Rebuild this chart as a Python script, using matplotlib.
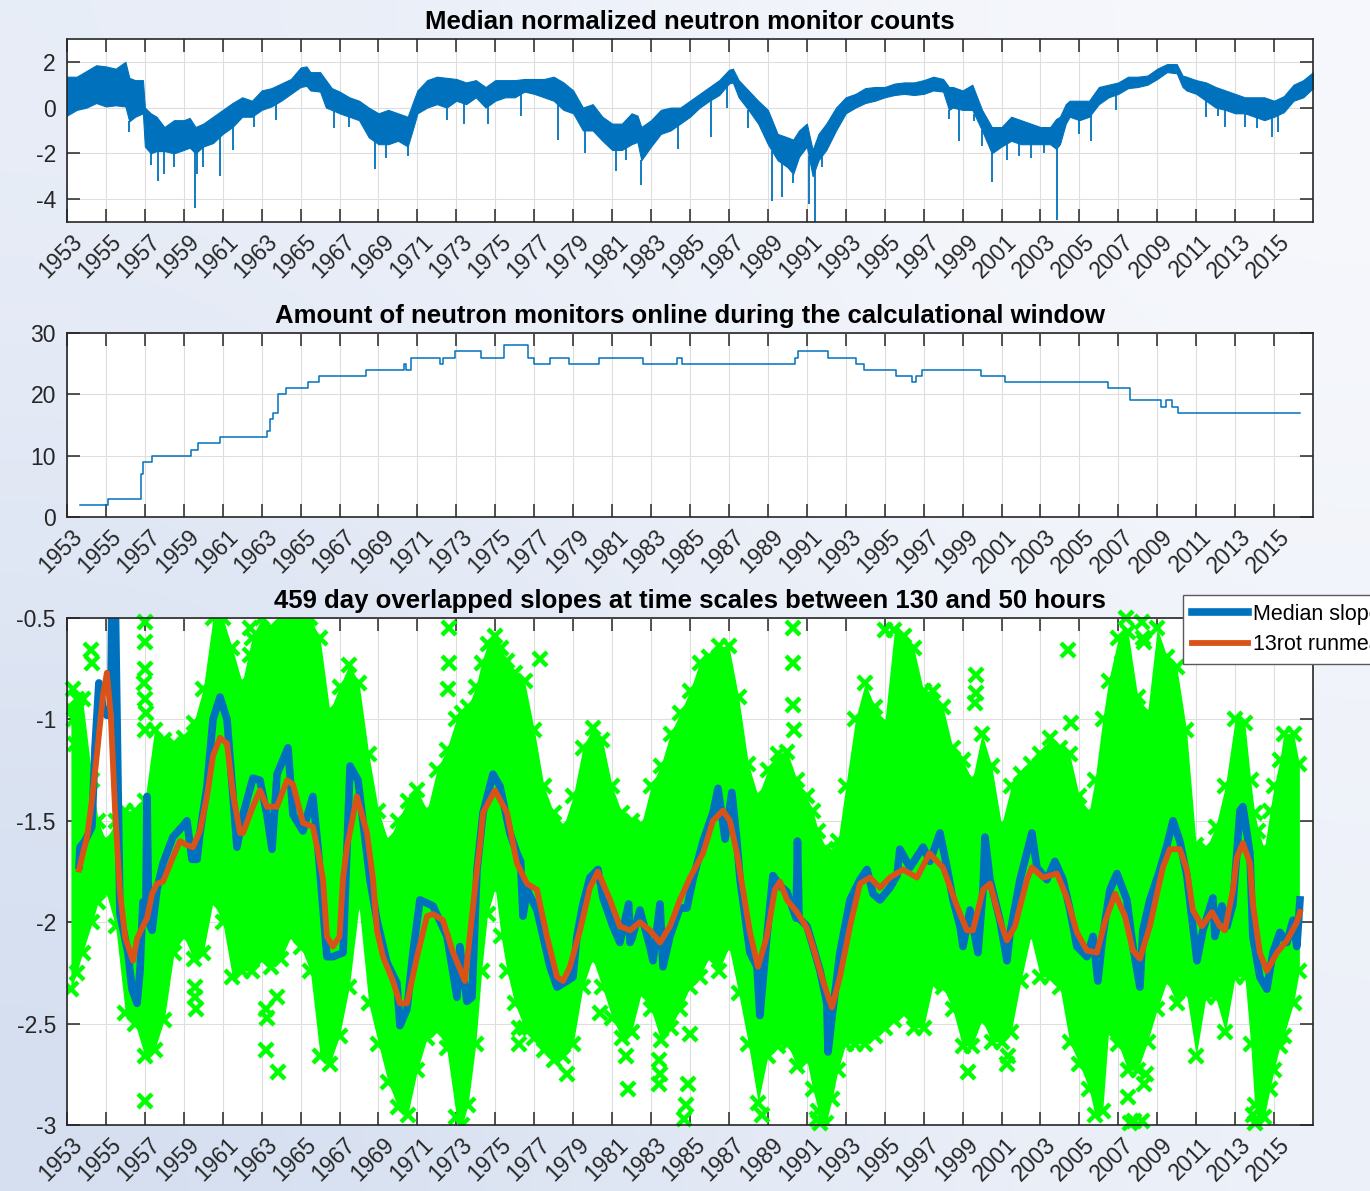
import numpy as np
import matplotlib.pyplot as plt
from matplotlib.transforms import ScaledTranslation

plt.rcParams['font.family'] = ['Liberation Sans', 'DejaVu Sans']
plt.rcParams['axes.unicode_minus'] = False

BLUE = '#0072BD'
ORANGE = '#D95319'
GREEN = '#00FF00'

# --- panel 1: median normalized counts (band envelope + deep decreases) ---
cnt_year = [1953.0, 1953.5, 1954.0, 1954.5, 1955.0, 1955.5, 1956.0, 1956.2, 1956.5, 1956.9,
            1957.0, 1957.3, 1957.6, 1958.0, 1958.5, 1959.0, 1959.3, 1959.6, 1960.0, 1960.5,
            1961.0, 1961.5, 1962.0, 1962.5, 1963.0, 1963.5, 1964.0, 1964.5, 1965.0, 1965.3,
            1965.5, 1966.0, 1966.3, 1966.6, 1967.0, 1967.5, 1968.0, 1968.5, 1969.0, 1969.5,
            1970.0, 1970.5, 1970.8, 1971.0, 1971.5, 1972.0, 1972.5, 1973.0, 1973.5, 1974.0,
            1974.5, 1975.0, 1975.5, 1976.0, 1976.5, 1977.0, 1977.5, 1978.0, 1978.5, 1979.0,
            1979.5, 1980.0, 1980.5, 1981.0, 1981.5, 1982.0, 1982.3, 1982.5, 1983.0, 1983.5,
            1984.0, 1984.5, 1985.0, 1985.5, 1986.0, 1986.5, 1987.0, 1987.2, 1987.5, 1988.0,
            1988.5, 1989.0, 1989.5, 1990.0, 1990.3, 1990.6, 1991.0, 1991.3, 1991.6, 1992.0,
            1992.5, 1993.0, 1993.5, 1994.0, 1994.5, 1995.0, 1995.5, 1996.0, 1996.5, 1997.0,
            1997.5, 1998.0, 1998.3, 1998.5, 1999.0, 1999.5, 2000.0, 2000.5, 2001.0, 2001.5,
            2002.0, 2002.5, 2003.0, 2003.5, 2003.8, 2004.0, 2004.3, 2004.5, 2005.0, 2005.5,
            2006.0, 2006.5, 2007.0, 2007.5, 2008.0, 2008.5, 2009.0, 2009.5, 2010.0, 2010.3,
            2010.5, 2011.0, 2011.5, 2012.0, 2012.5, 2013.0, 2013.5, 2014.0, 2014.5, 2015.0,
            2015.5, 2016.0, 2016.5, 2017.0]
cnt_hi = [1.35, 1.35, 1.6, 1.85, 1.8, 1.7, 2.0, 1.3, 1.2, 1.2,
          0.0, -0.25, -0.4, -0.85, -0.55, -0.55, -0.45, -0.85, -0.7, -0.4,
          -0.1, 0.2, 0.45, 0.3, 0.75, 0.85, 1.05, 1.25, 1.75, 1.8,
          1.55, 1.55, 1.2, 0.85, 0.7, 0.45, 0.3, 0.0, -0.25, -0.1,
          -0.25, -0.4, 0.3, 0.75, 1.2, 1.35, 1.3, 1.25, 1.1, 1.2,
          0.9, 1.2, 1.2, 1.2, 1.25, 1.25, 1.25, 1.35, 1.1, 0.75,
          0.0, 0.15, -0.4, -0.7, -0.7, -0.25, -0.35, -0.85, -0.55, -0.1,
          0.0, 0.0, 0.3, 0.6, 0.9, 1.2, 1.65, 1.7, 1.2, 0.75,
          0.3, -0.1, -1.15, -1.3, -1.4, -1.0, -0.7, -1.85, -1.15, -0.7,
          0.0, 0.45, 0.6, 0.85, 0.9, 0.9, 1.05, 1.1, 1.1, 1.2,
          1.35, 1.25, 0.9, 0.9, 0.75, 1.0, -0.1, -0.85, -0.85, -0.4,
          -0.55, -0.7, -0.85, -0.85, -0.5, -0.4, 0.15, 0.3, 0.3, 0.3,
          0.9, 1.0, 1.1, 1.35, 1.35, 1.4, 1.7, 1.9, 1.9, 1.4,
          1.35, 1.2, 1.1, 0.9, 0.75, 0.6, 0.45, 0.45, 0.45, 0.3,
          0.5, 1.0, 1.2, 1.55]
cnt_lo = [-0.35, -0.1, 0.0, 0.2, 0.05, 0.1, 0.05, -0.6, -0.4, -0.25,
          -1.7, -2.0, -1.9, -1.9, -2.0, -1.85, -1.75, -2.0, -1.7, -1.55,
          -1.15, -0.85, -0.4, -0.4, -0.1, 0.05, 0.3, 0.6, 0.9, 0.95,
          0.75, 0.7, 0.0, -0.1, -0.25, -0.4, -0.55, -1.3, -1.6, -1.6,
          -1.45, -1.7, -0.85, -0.25, 0.0, 0.15, 0.0, 0.3, 0.15, 0.45,
          0.0, 0.3, 0.45, 0.45, 0.7, 0.6, 0.45, 0.3, -0.1, -0.25,
          -1.0, -1.0, -1.45, -1.85, -1.85, -1.6, -1.5, -2.3, -1.7, -1.15,
          -1.0, -0.7, -0.4, 0.0, 0.3, 0.55, 1.05, 1.1, 0.45, -0.1,
          -0.7, -1.6, -2.3, -2.6, -2.9, -2.15, -1.7, -3.0, -2.3, -1.85,
          -1.0, -0.25, 0.0, 0.2, 0.3, 0.45, 0.55, 0.6, 0.55, 0.6,
          0.75, 0.7, -0.1, 0.0, -0.1, -0.1, -1.0, -2.0, -1.7, -1.45,
          -1.6, -1.6, -1.6, -1.6, -1.8, -1.6, -0.7, -0.4, -0.55, -0.4,
          0.15, 0.45, 0.6, 0.85, 0.9, 1.0, 1.25, 1.55, 1.5, 0.9,
          0.75, 0.6, 0.3, 0.0, -0.1, -0.25, -0.25, -0.4, -0.55, -0.4,
          -0.2, 0.3, 0.45, 0.85]
dip_year = [1956.2, 1957.3, 1957.65, 1958.0, 1958.5, 1959.55, 1959.7, 1960.0, 1960.85, 1961.55,
            1962.6, 1963.75, 1966.7, 1967.5, 1968.8, 1969.4, 1970.5, 1972.5, 1973.4, 1974.6,
            1976.3, 1978.2, 1979.6, 1981.2, 1981.7, 1982.5, 1984.4, 1986.1, 1986.9, 1988.0,
            1989.2, 1989.7, 1990.3, 1991.1, 1991.4, 1991.8, 1998.3, 1998.8, 1999.6, 2000.0,
            2000.5, 2001.3, 2001.9, 2002.5, 2003.2, 2003.85, 2005.0, 2005.6, 2006.9, 2011.5,
            2012.1, 2012.5, 2013.5, 2014.1, 2014.9, 2015.2]
dip_val = [-1.05, -2.5, -3.2, -2.9, -2.6, -4.4, -2.9, -2.6, -3.0, -1.85,
           -0.85, -0.55, -0.9, -0.85, -2.7, -2.2, -2.1, -0.55, -0.7, -0.7,
           -0.35, -1.4, -2.0, -2.75, -2.3, -3.4, -1.8, -1.3, 0.0, -0.9,
           -4.1, -3.9, -3.3, -4.2, -5.0, -2.6, -0.5, -1.45, -0.6, -1.7,
           -3.25, -2.3, -2.1, -2.2, -2.0, -4.9, -1.15, -1.45, -0.1, -0.4,
           -0.35, -0.85, -0.85, -0.9, -1.3, -1.05]

# --- panel 2: number of monitors online (step changes) ---
mon_year = [1953.69, 1955.13, 1956.78, 1956.90, 1957.36, 1959.35, 1959.72, 1960.84, 1963.28, 1963.44,
            1963.60, 1963.83, 1964.24, 1965.39, 1965.96, 1968.37, 1970.32, 1970.43, 1970.66, 1972.15,
            1972.33, 1972.95, 1974.26, 1975.43, 1976.67, 1977.01, 1977.82, 1978.80, 1980.34, 1982.59,
            1984.35, 1984.58, 1990.38, 1990.55, 1992.08, 1993.51, 1993.94, 1995.59, 1996.38, 1996.61,
            1996.90, 1999.95, 2001.20, 2006.49, 2007.58, 2009.21, 2009.43, 2009.77, 2010.07, 2016.33]
mon_count = [2, 3, 7, 9, 10, 11, 12, 13, 14, 16,
             17, 20, 21, 22, 23, 24, 25, 24, 26, 25,
             26, 27, 26, 28, 26, 25, 26, 25, 26, 25,
             26, 25, 26, 27, 26, 25, 24, 23, 22, 23,
             24, 23, 22, 21, 19, 18, 19, 18, 17, 17]

# --- panel 3: slopes ---
run_year = [1953.62, 1953.82, 1954.03, 1954.28, 1954.54, 1954.85, 1955.05, 1955.25, 1955.47, 1955.72,
            1956.0, 1956.39, 1956.6, 1956.9, 1957.11, 1957.37, 1957.62, 1957.93, 1958.44, 1958.8,
            1959.16, 1959.47, 1959.83, 1960.19, 1960.5, 1960.86, 1961.22, 1961.53, 1961.89, 1962.04,
            1962.55, 1962.91, 1963.27, 1963.79, 1964.3, 1964.61, 1965.12, 1965.63, 1965.89, 1966.15,
            1966.35, 1966.66, 1967.0, 1967.18, 1967.38, 1967.89, 1968.41, 1968.72, 1968.92, 1969.23,
            1969.74, 1970.1, 1970.46, 1970.98, 1971.49, 1971.8, 1972.31, 1972.83, 1973.44, 1974.06,
            1974.21, 1974.37, 1974.98, 1975.6, 1976.11, 1976.63, 1977.14, 1977.65, 1978.17, 1978.48,
            1978.83, 1979.35, 1979.86, 1980.27, 1980.89, 1981.4, 1981.92, 1982.43, 1982.94, 1983.46,
            1983.97, 1984.48, 1985.0, 1985.67, 1986.18, 1986.69, 1987.05, 1987.41, 1987.72, 1988.08,
            1988.49, 1988.95, 1989.36, 1989.62, 1989.98, 1990.49, 1991.01, 1991.32, 1991.83, 1992.29,
            1992.7, 1993.22, 1993.73, 1994.24, 1994.76, 1995.27, 1995.94, 1996.66, 1997.3, 1997.99,
            1998.71, 1999.22, 1999.53, 2000.05, 2000.41, 2000.92, 2001.28, 2001.69, 2002.31, 2002.56,
            2003.13, 2003.85, 2004.36, 2004.87, 2005.39, 2005.9, 2006.31, 2006.83, 2007.34, 2007.75,
            2008.11, 2008.62, 2009.03, 2009.29, 2009.65, 2010.16, 2010.52, 2010.83, 2011.29, 2011.81,
            2012.22, 2012.47, 2012.89, 2013.09, 2013.4, 2013.76, 2013.91, 2014.27, 2014.63, 2015.15,
            2015.66, 2016.17, 2016.33]
run_val = [-1.74, -1.66, -1.58, -1.40, -1.17, -0.88, -0.77, -0.98, -1.45, -1.85,
           -2.08, -2.19, -2.08, -2.02, -1.98, -1.86, -1.81, -1.80, -1.68, -1.60,
           -1.62, -1.63, -1.55, -1.38, -1.18, -1.09, -1.12, -1.37, -1.56, -1.56,
           -1.43, -1.35, -1.43, -1.43, -1.30, -1.32, -1.51, -1.53, -1.65, -1.79,
           -2.07, -2.12, -2.07, -1.78, -1.63, -1.38, -1.56, -1.79, -2.04, -2.17,
           -2.29, -2.40, -2.40, -2.17, -1.97, -1.96, -1.99, -2.15, -2.29, -1.74,
           -1.62, -1.46, -1.35, -1.46, -1.71, -1.81, -1.84, -2.07, -2.27, -2.29,
           -2.22, -2.04, -1.83, -1.75, -1.89, -2.02, -2.04, -2.00, -2.04, -2.10,
           -2.02, -1.89, -1.78, -1.66, -1.50, -1.45, -1.50, -1.66, -1.84, -2.05,
           -2.22, -2.07, -1.84, -1.80, -1.89, -1.95, -2.03, -2.12, -2.29, -2.42,
           -2.27, -2.02, -1.81, -1.78, -1.83, -1.78, -1.74, -1.78, -1.66, -1.73,
           -1.92, -2.04, -2.04, -1.84, -1.81, -1.99, -2.09, -2.02, -1.79, -1.73,
           -1.78, -1.76, -1.88, -2.05, -2.14, -2.15, -2.00, -1.86, -1.97, -2.14,
           -2.18, -2.02, -1.84, -1.73, -1.64, -1.64, -1.74, -1.94, -2.02, -1.95,
           -2.02, -2.04, -1.84, -1.68, -1.61, -1.71, -1.91, -2.15, -2.24, -2.15,
           -2.09, -2.00, -1.95]

med_year = [1953.62, 1953.67, 1953.92, 1954.28, 1954.44, 1954.64, 1954.85, 1955.05, 1955.25, 1955.31,
            1955.47, 1955.72, 1956.13, 1956.34, 1956.6, 1956.75, 1956.9, 1957.05, 1957.11, 1957.2,
            1957.37, 1957.62, 1957.93, 1958.44, 1958.91, 1959.16, 1959.42, 1959.68, 1959.83, 1960.19,
            1960.5, 1960.86, 1961.22, 1961.53, 1961.73, 1962.04, 1962.55, 1962.91, 1963.27, 1963.53,
            1963.79, 1964.35, 1964.61, 1965.12, 1965.63, 1965.89, 1966.35, 1966.66, 1967.18, 1967.54,
            1967.95, 1968.2, 1968.56, 1968.92, 1969.44, 1969.95, 1970.1, 1970.46, 1970.77, 1971.13,
            1971.8, 1972.52, 1973.03, 1973.18, 1973.54, 1973.8, 1974.06, 1974.37, 1974.88, 1975.24,
            1975.75, 1976.11, 1976.3, 1976.42, 1976.63, 1977.14, 1977.81, 1978.17, 1978.68, 1978.99,
            1979.19, 1979.5, 1979.86, 1980.27, 1980.53, 1981.04, 1981.4, 1981.85, 1981.92, 1982.02,
            1982.43, 1982.94, 1983.1, 1983.46, 1983.61, 1983.97, 1984.48, 1984.84, 1985.15, 1985.67,
            1986.18, 1986.44, 1986.8, 1987.15, 1987.41, 1987.57, 1988.08, 1988.44, 1988.59, 1988.95,
            1989.26, 1989.62, 1989.98, 1990.45, 1990.52, 1990.6, 1991.01, 1991.32, 1991.68, 1992.03,
            1992.09, 1992.34, 1992.7, 1993.22, 1993.73, 1994.09, 1994.4, 1994.76, 1995.27, 1995.63,
            1995.78, 1996.3, 1996.97, 1997.32, 1997.84, 1998.2, 1998.51, 1998.87, 1999.02, 1999.38,
            1999.79, 2000.05, 2000.15, 2000.41, 2000.92, 2001.28, 2001.43, 2001.95, 2002.56, 2002.82,
            2003.33, 2003.74, 2004.16, 2004.52, 2004.87, 2005.39, 2005.7, 2005.95, 2006.2, 2006.57,
            2006.93, 2007.44, 2007.75, 2008.11, 2008.26, 2008.62, 2009.14, 2009.5, 2009.81, 2010.16,
            2010.52, 2010.83, 2011.04, 2011.35, 2011.86, 2011.96, 2012.32, 2012.58, 2012.89, 2013.25,
            2013.4, 2013.76, 2013.91, 2014.27, 2014.63, 2014.94, 2015.3, 2015.66, 2015.97, 2016.17,
            2016.33]
med_val = [-1.72, -1.63, -1.60, -1.53, -1.14, -0.82, -0.94, -0.98, -0.95, -0.35,
           -0.35, -1.96, -2.15, -2.33, -2.40, -2.24, -1.90, -1.95, -1.38, -2.0,
           -2.04, -1.84, -1.71, -1.58, -1.53, -1.50, -1.69, -1.69, -1.56, -1.33,
           -1.00, -0.89, -1.00, -1.38, -1.63, -1.47, -1.29, -1.30, -1.47, -1.64,
           -1.27, -1.14, -1.47, -1.55, -1.38, -1.63, -2.17, -2.17, -2.15, -1.23,
           -1.30, -1.50, -1.79, -1.99, -2.20, -2.30, -2.51, -2.43, -2.15, -1.89,
           -1.92, -2.07, -2.37, -2.12, -2.39, -2.37, -1.74, -1.46, -1.27, -1.33,
           -1.56, -1.66, -1.70, -1.97, -1.84, -1.94, -2.22, -2.32, -2.29, -2.27,
           -2.07, -1.91, -1.78, -1.74, -1.88, -2.02, -2.10, -1.91, -2.10, -2.08,
           -1.94, -2.12, -2.19, -1.91, -2.22, -2.07, -1.93, -1.93, -1.79, -1.60,
           -1.46, -1.34, -1.59, -1.36, -1.60, -1.79, -2.15, -2.22, -2.46, -2.07,
           -1.77, -1.82, -1.85, -1.98, -1.60, -1.98, -2.02, -2.12, -2.24, -2.40,
           -2.64, -2.43, -2.15, -1.89, -1.79, -1.74, -1.86, -1.89, -1.83, -1.77,
           -1.64, -1.73, -1.63, -1.70, -1.56, -1.73, -1.89, -2.02, -2.12, -1.94,
           -2.15, -1.84, -1.58, -1.79, -1.99, -2.19, -2.06, -1.79, -1.56, -1.73,
           -1.79, -1.70, -1.79, -1.94, -2.12, -2.17, -2.07, -2.29, -2.07, -1.84,
           -1.76, -1.89, -2.12, -2.32, -2.04, -1.89, -1.74, -1.62, -1.50, -1.60,
           -1.77, -2.02, -2.19, -2.04, -1.88, -2.07, -1.92, -2.02, -1.91, -1.45,
           -1.43, -1.66, -2.07, -2.27, -2.33, -2.15, -2.05, -2.10, -1.99, -2.12,
           -1.89]

# spread of the individual station slopes: dense envelope per half year
spr_year = [1953.2, 1953.5, 1953.8, 1954.3, 1954.6, 1955.0, 1955.5, 1956.0, 1956.5, 1957.0,
            1957.5, 1958.0, 1958.5, 1959.0, 1959.5, 1960.0, 1960.5, 1961.0, 1961.5, 1962.0,
            1962.5, 1963.0, 1963.5, 1964.0, 1964.5, 1965.0, 1965.5, 1966.0, 1966.5, 1967.0,
            1967.5, 1968.0, 1968.5, 1969.0, 1969.5, 1970.0, 1970.5, 1971.0, 1971.5, 1972.0,
            1972.5, 1973.0, 1973.3, 1973.6, 1974.0, 1974.3, 1974.6, 1975.0, 1975.3, 1975.6,
            1976.0, 1976.5, 1977.0, 1977.5, 1978.0, 1978.5, 1979.0, 1979.5, 1980.0, 1980.5,
            1981.0, 1981.5, 1982.0, 1982.5, 1983.0, 1983.5, 1984.0, 1984.5, 1985.0, 1985.5,
            1986.0, 1986.5, 1987.0, 1987.5, 1988.0, 1988.5, 1989.0, 1989.5, 1990.0, 1990.5,
            1991.0, 1991.3, 1991.6, 1992.0, 1992.3, 1992.6, 1993.0, 1993.5, 1994.0, 1994.5,
            1995.0, 1995.5, 1996.0, 1996.5, 1997.0, 1997.5, 1998.0, 1998.5, 1999.0, 1999.5,
            2000.0, 2000.5, 2001.0, 2001.5, 2002.0, 2002.5, 2003.0, 2003.5, 2004.0, 2004.5,
            2005.0, 2005.5, 2005.8, 2006.2, 2006.5, 2007.0, 2007.5, 2008.0, 2008.5, 2009.0,
            2009.5, 2010.0, 2010.5, 2011.0, 2011.5, 2012.0, 2012.5, 2013.0, 2013.5, 2013.8,
            2014.0, 2014.2, 2014.5, 2014.8, 2015.0, 2015.3, 2015.5, 2016.0, 2016.3]
spr_hi = [-0.95, -0.9, -0.9, -1.3, -1.5, -1.6, -1.5, -1.45, -1.45, -1.4,
          -1.05, -1.1, -1.12, -1.09, -1.02, -0.85, -0.5, -0.5, -0.65, -0.82,
          -0.6, -0.5, -0.55, -0.5, -0.5, -0.5, -0.5, -0.6, -0.96, -0.84,
          -0.73, -0.82, -1.17, -1.45, -1.6, -1.5, -1.4, -1.35, -1.45, -1.25,
          -1.15, -1.0, -0.97, -0.94, -0.84, -0.72, -0.63, -0.59, -0.65, -0.71,
          -0.77, -0.81, -1.05, -1.33, -1.46, -1.53, -1.38, -1.14, -1.04, -1.10,
          -1.33, -1.46, -1.50, -1.52, -1.33, -1.23, -1.07, -0.97, -0.86, -0.72,
          -0.69, -0.64, -0.64, -0.89, -1.22, -1.38, -1.25, -1.17, -1.16, -1.30,
          -1.38, -1.45, -1.55, -1.64, -1.66, -1.6, -1.33, -1.0, -0.82, -0.94,
          -1.02, -0.56, -0.59, -0.65, -0.86, -0.86, -0.94, -1.14, -1.2, -1.3,
          -1.07, -1.23, -1.52, -1.33, -1.27, -1.22, -1.17, -1.09, -1.14, -1.17,
          -1.38, -1.46, -1.3, -1.0, -0.81, -0.6, -0.57, -0.89, -0.97, -0.55,
          -0.69, -0.74, -1.05, -1.62, -1.64, -1.53, -1.33, -1.0, -1.02, -1.3,
          -1.46, -1.55, -1.64, -1.45, -1.33, -1.2, -1.07, -1.07, -1.22]
spr_lo = [-2.33, -2.25, -2.15, -2.0, -1.9, -1.85, -2.02, -2.45, -2.5, -2.66,
          -2.63, -2.48, -2.15, -2.07, -2.18, -2.15, -1.9, -2.0, -2.27, -2.24,
          -2.24, -2.18, -2.22, -2.18, -2.07, -2.12, -2.24, -2.66, -2.70, -2.56,
          -2.32, -1.92, -2.40, -2.60, -2.79, -2.91, -2.95, -2.73, -2.57, -2.53,
          -2.62, -2.96, -3.0, -2.9, -2.60, -2.24, -1.96, -1.83, -2.07, -2.24,
          -2.40, -2.52, -2.57, -2.63, -2.68, -2.66, -2.60, -2.32, -2.18, -2.32,
          -2.47, -2.57, -2.54, -2.35, -2.43, -2.58, -2.52, -2.43, -2.32, -2.27,
          -2.17, -2.24, -2.12, -2.35, -2.60, -2.89, -2.66, -2.61, -2.60, -2.71,
          -2.68, -2.82, -2.93, -2.99, -2.87, -2.73, -2.60, -2.60, -2.60, -2.56,
          -2.52, -2.48, -2.45, -2.52, -2.52, -2.30, -2.32, -2.43, -2.61, -2.61,
          -2.48, -2.59, -2.59, -2.54, -2.29, -2.07, -2.27, -2.27, -2.32, -2.59,
          -2.70, -2.82, -2.95, -2.93, -2.54, -2.60, -2.73, -2.73, -2.59, -2.43,
          -2.29, -2.40, -2.35, -2.66, -2.37, -2.37, -2.54, -2.27, -2.27, -2.60,
          -2.90, -3.0, -2.96, -2.82, -2.73, -2.61, -2.56, -2.40, -2.24]

# isolated station slopes outside the dense cloud
out_year = [1953.3, 1953.35, 1953.4, 1954.25, 1954.3, 1957.0, 1957.0, 1957.0, 1956.95, 1957.0,
            1957.05, 1957.0, 1962.4, 1962.4, 1972.6, 1972.6, 1972.55, 1977.3, 1990.3, 1990.3,
            1990.3, 1990.35, 1995.0, 1999.7, 1999.7, 1999.65, 2004.4, 2004.55, 2007.2, 2007.4,
            2008.2, 2008.25, 2008.3, 2015.3,
            1957.0, 1959.6, 1959.6, 1959.65, 1963.2, 1963.25, 1963.2, 1963.8, 1963.85, 1976.2,
            1976.2, 1978.7, 1980.4, 1981.7, 1981.8, 1983.4, 1983.45, 1983.4, 1984.8, 1984.9,
            1985.0, 1984.7, 1988.7, 1991.5, 1991.7, 1999.3, 2001.3, 2001.35, 2007.5, 2007.6,
            2007.8, 2008.2, 2008.3, 2008.4, 2013.9, 2014.0]
out_val = [-0.85, -1.0, -1.12, -0.66, -0.72, -0.52, -0.62, -0.75, -0.82, -0.9,
           -0.97, -1.05, -0.55, -0.68, -0.55, -0.72, -0.85, -0.7, -0.55, -0.72,
           -0.93, -1.05, -0.56, -0.78, -0.87, -0.92, -0.66, -1.02, -0.72, -0.5,
           -0.52, -0.6, -0.62, -1.45,
           -2.88, -2.32, -2.37, -2.43, -2.43, -2.47, -2.63, -2.37, -2.74, -2.52,
           -2.6, -2.75, -2.45, -2.66, -2.82, -2.68, -2.75, -2.8, -2.9, -2.8,
           -2.55, -2.97, -2.95, -2.97, -2.99, -2.74, -2.7, -2.66, -2.86, -2.99,
           -2.98, -2.98, -2.8, -2.75, -2.95, -2.99]

years_tick = list(range(1953, 2016, 2))


def style_axes(ax, ylim, yticks):
    ax.set_xlim(1953, 2017)
    ax.set_ylim(*ylim)
    ax.set_xticks(years_tick)
    ax.set_xticklabels([str(y) for y in years_tick])
    ax.set_yticks(yticks)
    ax.grid(True, color='#dedede', lw=0.8)
    ax.set_axisbelow(True)
    ax.tick_params(direction='in', length=9.5, width=1.1, top=True, right=True,
                   labelsize=16.5, colors='#262626', pad=8)
    ax.tick_params(axis='x', pad=6)
    for sp in ax.spines.values():
        sp.set_color('#262626')
        sp.set_linewidth(1.2)
    shift = ScaledTranslation(4 / 100, 0, ax.figure.dpi_scale_trans)
    for lbl in ax.get_xticklabels():
        lbl.set_rotation(45)
        lbl.set_ha('right')
        lbl.set_va('top')
        lbl.set_rotation_mode('anchor')
        lbl.set_transform(lbl.get_transform() + shift)


fig = plt.figure(figsize=(13.7, 11.91), dpi=100)

# soft blue-to-white backdrop
bg = fig.add_axes([0, 0, 1, 1], zorder=-5)
grad = np.array([[[0.91, 0.93, 0.97], [0.97, 0.975, 0.99]],
                 [[0.83, 0.87, 0.94], [0.93, 0.945, 0.975]]])
bg.imshow(grad, extent=[0, 1, 0, 1], aspect='auto', interpolation='bicubic')
bg.axis('off')

# panel 1
ax1 = fig.add_axes([0.0489, 0.8136, 0.9095, 0.1537])
ax1.fill_between(cnt_year, cnt_lo, cnt_hi, color=BLUE, lw=0.8)
dip_base = np.interp(dip_year, cnt_year, cnt_lo)
ax1.vlines(dip_year, dip_val, dip_base, color=BLUE, lw=1.3)
style_axes(ax1, (-5, 3), [-4, -2, 0, 2])
ax1.set_title('Median normalized neutron monitor counts', fontsize=18.5,
              fontweight='bold', pad=7)

# panel 2
ax2 = fig.add_axes([0.0489, 0.5659, 0.9095, 0.1545])
ax2.step(mon_year, mon_count, where='post', color=BLUE, lw=1.1)
style_axes(ax2, (0, 30), [0, 10, 20, 30])
ax2.set_title('Amount of neutron monitors online during the calculational window',
              fontsize=18.5, fontweight='bold', pad=7)

# panel 3
ax3 = fig.add_axes([0.0489, 0.0554, 0.9095, 0.4257])
ax3.fill_between(spr_year, spr_lo, spr_hi, color=GREEN, lw=0)
for edge in (spr_hi, spr_lo):
    ax3.plot(spr_year, edge, ls='none', marker='x', ms=10, mew=3.2, color=GREEN)
ax3.plot(out_year, out_val, ls='none', marker='x', ms=10, mew=3.2, color=GREEN,
         clip_on=False)
ax3.plot(med_year, med_val, color=BLUE, lw=5.5, label='Median slopes')
ax3.plot(run_year, run_val, color=ORANGE, lw=4.2, label='13rot runmean')
style_axes(ax3, (-3, -0.5), [-3, -2.5, -2, -1.5, -1, -0.5])
ax3.set_yticklabels(['-3', '-2.5', '-2', '-1.5', '-1', '-0.5'])
ax3.set_title('459 day overlapped slopes at time scales between 130 and 50 hours',
              fontsize=18.5, fontweight='bold', pad=7)
leg = ax3.legend(loc='upper left', bbox_to_anchor=(1183 / 1370, 1 - 595 / 1191),
                 bbox_transform=fig.transFigure, fontsize=15.5, frameon=True,
                 fancybox=False, framealpha=1, edgecolor='#5a5a5a',
                 handlelength=2.6, handletextpad=0.25, borderpad=0.4,
                 labelspacing=0.45, borderaxespad=0)
leg.get_frame().set_linewidth(1.0)

fig.savefig('out.png', dpi=100)
